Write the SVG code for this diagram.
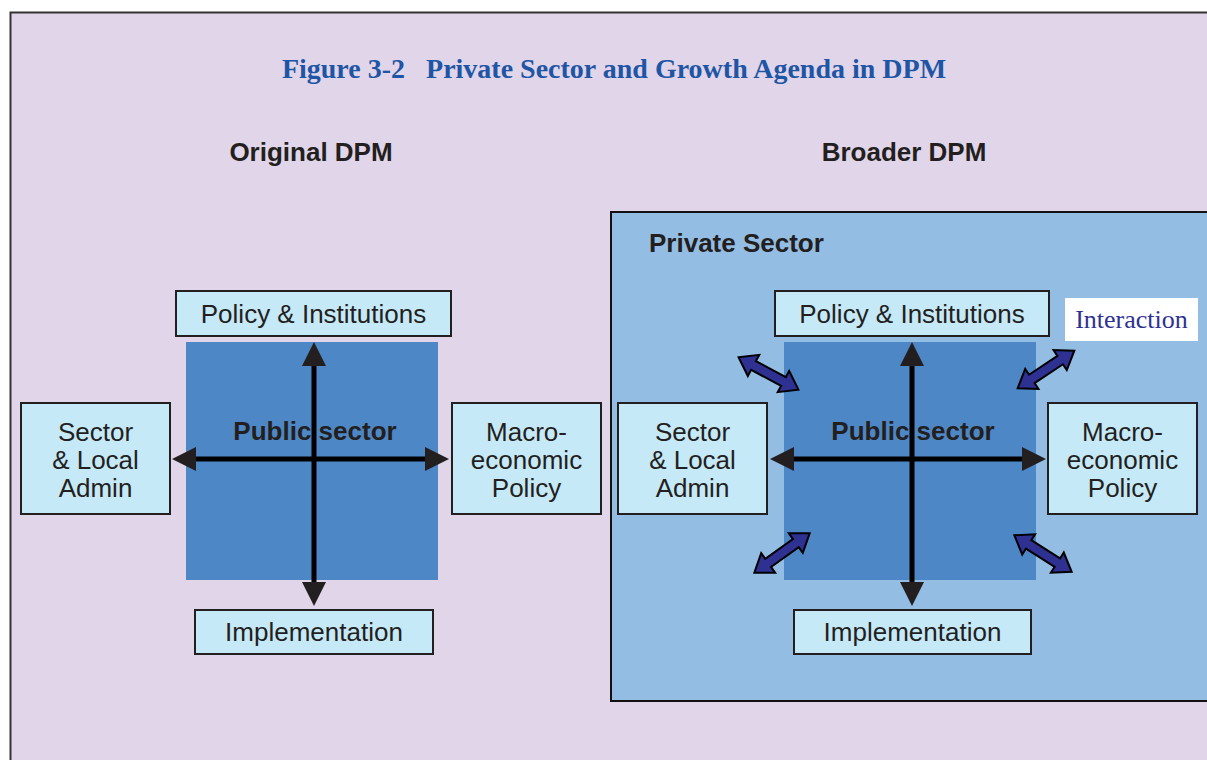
<svg xmlns="http://www.w3.org/2000/svg" width="1207" height="760" viewBox="0 0 1207 760">
<style>
.box{fill:#c6e9f8;stroke:#231f20;stroke-width:2}
.pub{fill:#4d87c6}
.t{font-family:"Liberation Sans",Arial,sans-serif;font-size:26px;fill:#231f20;text-anchor:middle}
.b{font-family:"Liberation Sans",Arial,sans-serif;font-size:26px;font-weight:bold;fill:#231f20}
.ln{stroke:#000;stroke-width:5;fill:none}
.hd{fill:#231f20}
.da{fill:#2e3192;stroke:#000;stroke-width:2;stroke-linejoin:miter}
</style>
<defs>
<polygon id="dbl" class="da" points="-34,0 -17,-12 -17,-5 17,-5 17,-12 34,0 17,12 17,5 -17,5 -17,12"/>
</defs>
<rect x="0" y="0" width="1207" height="760" fill="#ffffff"/>
<rect id="frame" x="10.5" y="12.5" width="1210" height="760" fill="#e1d5e9" stroke="#333" stroke-width="2"/>
<text x="614" y="78" font-family="Liberation Serif,Times New Roman,serif" font-size="28" font-weight="bold" fill="#1f55a5" text-anchor="middle" xml:space="preserve">Figure 3-2   Private Sector and Growth Agenda in DPM</text>
<text class="b" x="311" y="161" text-anchor="middle">Original DPM</text>
<text class="b" x="904" y="161" text-anchor="middle">Broader DPM</text>

<g id="private-sector">
<rect x="611" y="212" width="600" height="489" fill="#94bde4" stroke="#111" stroke-width="2"/>
<text class="b" x="649" y="252">Private Sector</text>
</g>

<g id="left-public">
<rect class="pub" x="186" y="342" width="252" height="238"/>
<text class="b" x="315" y="440" text-anchor="middle">Public sector</text>
</g>
<g id="left-policy"><rect class="box" x="176" y="291" width="275" height="45"/><text class="t" x="313.5" y="323">Policy &amp; Institutions</text></g>
<g id="left-sector"><rect class="box" x="21" y="403" width="149" height="111"/><text class="t" x="95.5" y="441">Sector</text><text class="t" x="95.5" y="469">&amp; Local</text><text class="t" x="95.5" y="497">Admin</text></g>
<g id="left-macro"><rect class="box" x="452" y="403" width="149" height="111"/><text class="t" x="526.5" y="441">Macro-</text><text class="t" x="526.5" y="469">economic</text><text class="t" x="526.5" y="497">Policy</text></g>
<g id="left-impl"><rect class="box" x="195" y="610" width="238" height="44"/><text class="t" x="314" y="641">Implementation</text></g>

<g id="right-public">
<rect class="pub" x="784" y="342" width="252" height="238"/>
<text class="b" x="913" y="440" text-anchor="middle">Public sector</text>
</g>
<g id="right-policy"><rect class="box" x="775" y="291" width="274" height="45"/><text class="t" x="912" y="323">Policy &amp; Institutions</text></g>
<g id="right-sector"><rect class="box" x="618" y="403" width="149" height="111"/><text class="t" x="692.5" y="441">Sector</text><text class="t" x="692.5" y="469">&amp; Local</text><text class="t" x="692.5" y="497">Admin</text></g>
<g id="right-macro"><rect class="box" x="1048" y="403" width="149" height="111"/><text class="t" x="1122.5" y="441">Macro-</text><text class="t" x="1122.5" y="469">economic</text><text class="t" x="1122.5" y="497">Policy</text></g>
<g id="right-impl"><rect class="box" x="794" y="610" width="237" height="44"/><text class="t" x="912.5" y="641">Implementation</text></g>

<g id="interaction">
<rect x="1065" y="298" width="133" height="43" fill="#ffffff"/>
<text x="1131.5" y="328" font-family="Liberation Serif,Times New Roman,serif" font-size="26" fill="#2e3192" text-anchor="middle">Interaction</text>
</g>

<g id="connectors">
<line class="ln" x1="314" y1="362" x2="314" y2="586"/>
<line class="ln" x1="192" y1="459" x2="429" y2="459"/>
<polygon class="hd" points="314,342 302,366 326,366"/>
<polygon class="hd" points="314,606 302,582 326,582"/>
<polygon class="hd" points="172,459 196,447 196,471"/>
<polygon class="hd" points="449,459 425,447 425,471"/>

<line class="ln" x1="912" y1="362" x2="912" y2="586"/>
<line class="ln" x1="790" y1="459" x2="1026" y2="459"/>
<polygon class="hd" points="912,342 900,366 924,366"/>
<polygon class="hd" points="912,606 900,582 924,582"/>
<polygon class="hd" points="770,459 794,447 794,471"/>
<polygon class="hd" points="1046,459 1022,447 1022,471"/>

<use href="#dbl" transform="translate(768.5,373.5) rotate(28.4)"/>
<use href="#dbl" transform="translate(1046,369.5) rotate(-33.5)"/>
<use href="#dbl" transform="translate(782,553) rotate(-35.5)"/>
<use href="#dbl" transform="translate(1043,553.5) rotate(32.5)"/>
</g>
</svg>
